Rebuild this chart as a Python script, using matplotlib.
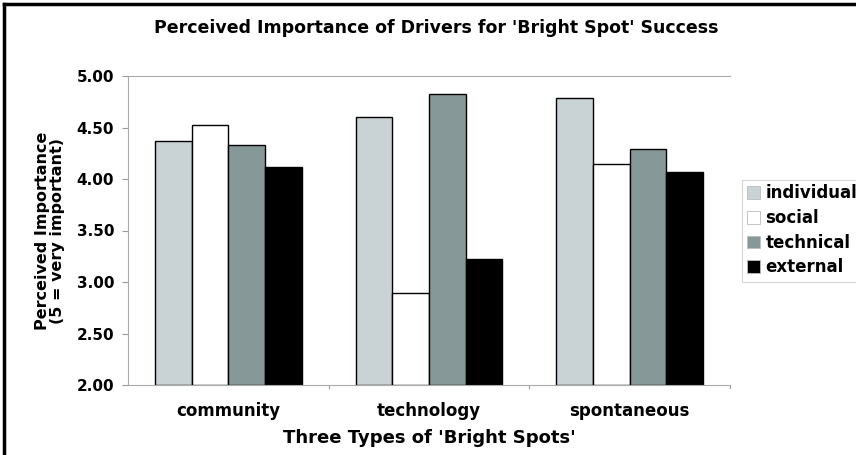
import numpy as np
import matplotlib.pyplot as plt
from matplotlib.lines import Line2D

categories = ['community', 'technology', 'spontaneous']
series = ['individual', 'social', 'technical', 'external']
individual = [4.37, 4.60, 4.79]
social = [4.52, 2.89, 4.15]
technical = [4.33, 4.83, 4.29]
external = [4.12, 3.22, 4.07]
colors = ['#c9d3d5', '#ffffff', '#879899', '#000000']

plt.rcParams['font.family'] = 'DejaVu Sans'
plt.rcParams['font.weight'] = 'bold'

fig = plt.figure(figsize=(8.56, 4.55), dpi=100)
ax = fig.add_axes([128 / 856, 1 - 385 / 455, 602 / 856, 309 / 455])

x = np.arange(len(categories))
width = 0.183
values = [individual, social, technical, external]
for i, (name, vals) in enumerate(zip(series, values)):
    ax.bar(x + (i - 1.5) * width, np.array(vals) - 2.0, width, bottom=2.0,
           color=colors[i], edgecolor='black', linewidth=1.0, label=name)

ax.set_xlim(-0.5, 2.5)
ax.set_ylim(2.0, 5.0)
ticks = np.arange(2.0, 5.01, 0.5)
ax.set_yticks(ticks)
ax.set_yticklabels(['%.2f' % v for v in ticks], fontsize=11, fontweight='bold')
ax.set_xticks(x)
ax.set_xticklabels(categories, fontsize=12, fontweight='bold')
ax.tick_params(axis='x', length=0, pad=12)
ax.tick_params(axis='y', length=4, color='#999999', pad=6)
# category separator ticks
for sep in [0.5, 1.5, 2.5]:
    ax.plot([sep, sep], [2.0, 1.97], color='#999999', lw=0.8, clip_on=False)

ax.spines['right'].set_visible(False)
for s in ['left', 'bottom', 'top']:
    ax.spines[s].set_color('#aaaaaa')
    ax.spines[s].set_linewidth(0.8)

ax.set_xlabel("Three Types of 'Bright Spots'", fontsize=13, fontweight='bold', labelpad=7)
ax.set_ylabel('Perceived Importance\n(5 = very important)', fontsize=11.5, fontweight='bold',
              labelpad=8, linespacing=1.0)
fig.text(436 / 856, 1 - 28 / 455, "Perceived Importance of Drivers for 'Bright Spot' Success",
         ha='center', va='center', fontsize=12.5, fontweight='bold')

leg = ax.legend(loc='center left', bbox_to_anchor=(1.02, 0.5), frameon=True, fontsize=12,
                handlelength=0.8, handleheight=0.8, handletextpad=0.3, borderpad=0.3,
                labelspacing=0.4, borderaxespad=0, fancybox=False)
leg.get_frame().set_edgecolor('#cccccc')
leg.get_frame().set_linewidth(0.8)
for h in leg.legend_handles:
    h.set_edgecolor('#bbbbbb')
    h.set_linewidth(0.6)

# outer frame (top and left visible)
fig.add_artist(Line2D([4 / 856, 4 / 856], [0, 1 - 4 / 455], color='black', lw=2.5))
fig.add_artist(Line2D([4 / 856, 1], [1 - 4 / 455, 1 - 4 / 455], color='black', lw=2.5))

fig.savefig('out.png', dpi=100)
